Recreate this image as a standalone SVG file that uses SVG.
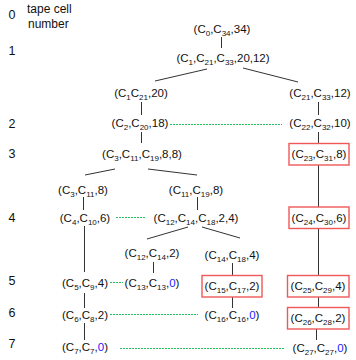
<svg xmlns="http://www.w3.org/2000/svg" width="356" height="360" viewBox="0 0 356 360">
<style>
text{font-family:"Liberation Sans",Arial,sans-serif;fill:#111}
.n{font-size:11.5px;text-anchor:middle}
.s{font-size:8px}
.z{fill:#1a1aff}
.lbl{font-size:12.5px;text-anchor:middle}
.hd{font-size:12px}
.c line{stroke:#333;stroke-width:1}
.c line.g{stroke:#22c060;stroke-dasharray:2 1}
.box{fill:none;stroke:#f05858;stroke-width:1.4}
</style>
<rect width="356" height="360" fill="#fff"/>
<g id="labels">
<text class="lbl" x="12" y="19">0</text>
<text class="hd" x="27" y="13">tape cell</text>
<text class="hd" x="28" y="28">number</text>
<text class="lbl" x="12" y="55">1</text>
<text class="lbl" x="12" y="128">2</text>
<text class="lbl" x="12" y="158">3</text>
<text class="lbl" x="12" y="222">4</text>
<text class="lbl" x="12" y="285">5</text>
<text class="lbl" x="12" y="317">6</text>
<text class="lbl" x="12" y="348">7</text>
</g>
<g class="c" id="connectors">
<line x1="221.5" y1="37" x2="221.5" y2="48"/>
<line x1="207" y1="69" x2="155" y2="81"/>
<line x1="243" y1="68" x2="298" y2="82"/>
<line x1="141.5" y1="102" x2="141.5" y2="115"/>
<line x1="318.5" y1="102" x2="318.5" y2="115"/>
<line x1="141.5" y1="132" x2="141.5" y2="143"/>
<line x1="318.5" y1="132" x2="318.5" y2="143"/>
<line x1="85" y1="175" x2="115" y2="169"/>
<line x1="148" y1="169" x2="197" y2="175"/>
<line x1="318.5" y1="165" x2="318.5" y2="207"/>
<line x1="83.5" y1="197" x2="83.5" y2="210"/>
<line x1="197.5" y1="197" x2="197.5" y2="210"/>
<line x1="188" y1="227" x2="147" y2="239"/>
<line x1="202" y1="227" x2="240" y2="238"/>
<line x1="318.5" y1="228" x2="318.5" y2="275"/>
<line x1="84.5" y1="226" x2="84.5" y2="272"/>
<line x1="153.5" y1="262" x2="153.5" y2="273"/>
<line x1="232.5" y1="263" x2="232.5" y2="275"/>
<line x1="84.5" y1="293" x2="84.5" y2="308"/>
<line x1="232.5" y1="297" x2="232.5" y2="308"/>
<line x1="318.5" y1="297" x2="318.5" y2="307"/>
<line x1="84.5" y1="323" x2="84.5" y2="340"/>
<line x1="316.5" y1="329" x2="316.5" y2="340"/>
<line class="g" x1="170" y1="124.5" x2="282" y2="124.5"/>
<line class="g" x1="116" y1="217.5" x2="146" y2="217.5"/>
<line class="g" x1="110" y1="282.5" x2="123" y2="282.5"/>
<line class="g" x1="110" y1="314.5" x2="198" y2="314.5"/>
<line class="g" x1="120" y1="348.5" x2="284" y2="348.5"/>
</g>
<g id="n0"><text class="n" x="222" y="33">(C<tspan class="s" dy="3">0</tspan><tspan dy="-3">,C</tspan><tspan class="s" dy="3">34</tspan><tspan dy="-3">,34)</tspan></text></g>
<g id="n1"><text class="n" x="223" y="62">(C<tspan class="s" dy="3">1</tspan><tspan dy="-3">,C</tspan><tspan class="s" dy="3">21</tspan><tspan dy="-3">,C</tspan><tspan class="s" dy="3">33</tspan><tspan dy="-3">,20,12)</tspan></text></g>
<g id="n2"><text class="n" x="141" y="97">(C<tspan class="s" dy="3">1</tspan><tspan dy="-3">C</tspan><tspan class="s" dy="3">21</tspan><tspan dy="-3">,20)</tspan></text></g>
<g id="n3"><text class="n" x="320" y="97">(C<tspan class="s" dy="3">21</tspan><tspan dy="-3">,C</tspan><tspan class="s" dy="3">33</tspan><tspan dy="-3">,12)</tspan></text></g>
<g id="n4"><text class="n" x="140" y="127">(C<tspan class="s" dy="3">2</tspan><tspan dy="-3">,C</tspan><tspan class="s" dy="3">20</tspan><tspan dy="-3">,18)</tspan></text></g>
<g id="n5"><text class="n" x="320" y="127">(C<tspan class="s" dy="3">22</tspan><tspan dy="-3">,C</tspan><tspan class="s" dy="3">32</tspan><tspan dy="-3">,10)</tspan></text></g>
<g id="n6"><text class="n" x="142" y="158">(C<tspan class="s" dy="3">3</tspan><tspan dy="-3">,C</tspan><tspan class="s" dy="3">11</tspan><tspan dy="-3">,C</tspan><tspan class="s" dy="3">19</tspan><tspan dy="-3">,8,8)</tspan></text></g>
<g id="n7"><rect class="box" x="289" y="143.5" width="60" height="21.5"/><text class="n" x="319" y="158">(C<tspan class="s" dy="3">23</tspan><tspan dy="-3">,C</tspan><tspan class="s" dy="3">31</tspan><tspan dy="-3">,8)</tspan></text></g>
<g id="n8"><text class="n" x="83" y="194">(C<tspan class="s" dy="3">3</tspan><tspan dy="-3">,C</tspan><tspan class="s" dy="3">11</tspan><tspan dy="-3">,8)</tspan></text></g>
<g id="n9"><text class="n" x="196" y="194">(C<tspan class="s" dy="3">11</tspan><tspan dy="-3">,C</tspan><tspan class="s" dy="3">19</tspan><tspan dy="-3">,8)</tspan></text></g>
<g id="n10"><text class="n" x="85" y="222">(C<tspan class="s" dy="3">4</tspan><tspan dy="-3">,C</tspan><tspan class="s" dy="3">10</tspan><tspan dy="-3">,6)</tspan></text></g>
<g id="n11"><text class="n" x="196" y="222">(C<tspan class="s" dy="3">12</tspan><tspan dy="-3">,C</tspan><tspan class="s" dy="3">14</tspan><tspan dy="-3">,C</tspan><tspan class="s" dy="3">18</tspan><tspan dy="-3">,2,4)</tspan></text></g>
<g id="n12"><rect class="box" x="289" y="207" width="60" height="21.5"/><text class="n" x="319" y="222">(C<tspan class="s" dy="3">24</tspan><tspan dy="-3">,C</tspan><tspan class="s" dy="3">30</tspan><tspan dy="-3">,6)</tspan></text></g>
<g id="n13"><text class="n" x="152" y="257">(C<tspan class="s" dy="3">12</tspan><tspan dy="-3">,C</tspan><tspan class="s" dy="3">14</tspan><tspan dy="-3">,2)</tspan></text></g>
<g id="n14"><text class="n" x="232" y="259">(C<tspan class="s" dy="3">14</tspan><tspan dy="-3">,C</tspan><tspan class="s" dy="3">18</tspan><tspan dy="-3">,4)</tspan></text></g>
<g id="n15"><text class="n" x="85" y="287">(C<tspan class="s" dy="3">5</tspan><tspan dy="-3">,C</tspan><tspan class="s" dy="3">9</tspan><tspan dy="-3">,4)</tspan></text></g>
<g id="n16"><text class="n" x="152" y="287">(C<tspan class="s" dy="3">13</tspan><tspan dy="-3">,C</tspan><tspan class="s" dy="3">13</tspan><tspan dy="-3">,</tspan><tspan class="z">0</tspan>)</text></g>
<g id="n17"><rect class="box" x="202" y="275.5" width="60" height="21.5"/><text class="n" x="232" y="290">(C<tspan class="s" dy="3">15</tspan><tspan dy="-3">,C</tspan><tspan class="s" dy="3">17</tspan><tspan dy="-3">,2)</tspan></text></g>
<g id="n18"><rect class="box" x="287.5" y="275.5" width="61.5" height="21.5"/><text class="n" x="318" y="290">(C<tspan class="s" dy="3">25</tspan><tspan dy="-3">,C</tspan><tspan class="s" dy="3">29</tspan><tspan dy="-3">,4)</tspan></text></g>
<g id="n19"><text class="n" x="85" y="319">(C<tspan class="s" dy="3">6</tspan><tspan dy="-3">,C</tspan><tspan class="s" dy="3">8</tspan><tspan dy="-3">,2)</tspan></text></g>
<g id="n20"><text class="n" x="232" y="319">(C<tspan class="s" dy="3">16</tspan><tspan dy="-3">,C</tspan><tspan class="s" dy="3">16</tspan><tspan dy="-3">,</tspan><tspan class="z">0</tspan>)</text></g>
<g id="n21"><rect class="box" x="287.5" y="307.5" width="61.5" height="21.5"/><text class="n" x="318" y="322">(C<tspan class="s" dy="3">26</tspan><tspan dy="-3">,C</tspan><tspan class="s" dy="3">28</tspan><tspan dy="-3">,2)</tspan></text></g>
<g id="n22"><text class="n" x="85" y="351">(C<tspan class="s" dy="3">7</tspan><tspan dy="-3">,C</tspan><tspan class="s" dy="3">7</tspan><tspan dy="-3">,</tspan><tspan class="z">0</tspan>)</text></g>
<g id="n23"><text class="n" x="320" y="352">(C<tspan class="s" dy="3">27</tspan><tspan dy="-3">,C</tspan><tspan class="s" dy="3">27</tspan><tspan dy="-3">,</tspan><tspan class="z">0</tspan>)</text></g>
</svg>
